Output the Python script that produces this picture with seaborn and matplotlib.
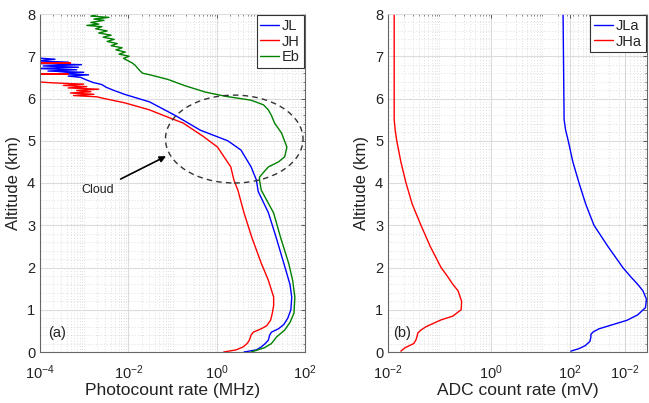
import numpy as np
import pandas as pd
import matplotlib
matplotlib.use('Agg')
import matplotlib.pyplot as plt
import seaborn as sns
from matplotlib.patches import Ellipse
from matplotlib.ticker import FixedLocator, LogLocator, NullFormatter, MultipleLocator

sns.set_style('white')
plt.rcParams['font.family'] = ['Liberation Sans', 'DejaVu Sans']
plt.rcParams['mathtext.fontset'] = 'custom'
plt.rcParams['mathtext.rm'] = 'Liberation Sans'
plt.rcParams['mathtext.it'] = 'Liberation Sans:italic'
plt.rcParams['mathtext.bf'] = 'Liberation Sans:bold'

# ---------------- data (altitude km, log10 of rate) ----------------
jl_alt = [0.00, 0.05, 0.12, 0.20, 0.28, 0.40, 0.47, 0.55, 0.65, 0.80, 1.00, 1.30, 1.60,
          2.10, 2.70, 3.30, 3.80, 4.07, 4.38, 4.78, 5.00, 5.25, 5.60, 5.92, 6.10, 6.20,
          6.27, 6.33, 6.38, 6.44, 6.50, 6.53, 6.56, 6.59, 6.62, 6.65, 6.68, 6.71, 6.74,
          6.77, 6.80, 6.83, 6.86, 6.89, 6.93, 6.96]
jl_log = [0.62, 0.90, 1.01, 1.10, 1.17, 1.20, 1.24, 1.40, 1.52, 1.61, 1.68, 1.70, 1.66,
          1.52, 1.35, 1.17, 0.94, 0.90, 0.78, 0.55, 0.25, -0.37, -0.94, -1.52, -2.09, -2.35,
          -2.51, -2.60, -2.80, -2.95, -3.08, -3.36, -2.90, -3.59, -3.01, -3.82, -3.17, -4.09, -3.13,
          -3.93, -3.06, -4.09, -3.36, -4.09, -3.66, -4.09]

jh_alt = [0.00, 0.05, 0.12, 0.20, 0.28, 0.40, 0.47, 0.55, 0.62, 0.75, 0.92, 1.10, 1.30,
          1.70, 2.10, 2.70, 3.29, 3.83, 4.07, 4.38, 4.85, 5.10, 5.42, 5.54, 5.73, 5.90,
          6.00, 6.04, 6.07, 6.10, 6.13, 6.16, 6.19, 6.22, 6.25, 6.28, 6.31, 6.34, 6.37,
          6.39, 6.40, 6.57, 6.58, 6.59, 6.83, 6.84, 6.85]
jh_log = [0.16, 0.44, 0.60, 0.69, 0.74, 0.78, 0.83, 1.01, 1.13, 1.22, 1.26, 1.29, 1.29,
          1.17, 1.01, 0.80, 0.62, 0.48, 0.39, 0.32, 0.02, -0.30, -0.76, -1.06, -1.52, -2.09,
          -2.55, -2.71, -3.24, -2.78, -3.31, -2.85, -3.17, -2.67, -3.36, -2.94, -3.47, -3.01, -3.70,
          -4.00, -4.09, -4.09, -3.36, -4.09, -4.09, -3.31, -4.09]

eb_alt = [0.00, 0.10, 0.20, 0.36, 0.52, 0.70, 0.92, 1.30, 1.70, 2.10, 2.70, 3.29, 3.83,
          4.07, 4.14, 4.25, 4.38, 4.50, 4.62, 4.85, 5.18, 5.42, 5.60, 5.73, 5.85, 5.96,
          6.05, 6.15, 6.30, 6.45, 6.55, 6.60, 6.67, 6.72, 6.78, 6.84, 6.90, 6.95, 7.00,
          7.05, 7.10, 7.15, 7.20, 7.25, 7.30, 7.35, 7.40, 7.45, 7.50, 7.55, 7.60, 7.65,
          7.70, 7.73, 7.76, 7.80, 7.85, 7.88, 7.92, 7.95, 8.00]
eb_log = [0.78, 1.08, 1.24, 1.36, 1.54, 1.66, 1.75, 1.77, 1.72, 1.63, 1.45, 1.29, 1.01,
          0.97, 0.97, 1.06, 1.17, 1.40, 1.54, 1.59, 1.47, 1.31, 1.24, 1.17, 1.06, 0.78,
          0.21, -0.25, -0.71, -1.10, -1.47, -1.68, -1.75, -1.79, -1.84, -1.91, -2.02, -2.11, -1.98,
          -2.21, -2.07, -2.28, -2.14, -2.39, -2.25, -2.48, -2.32, -2.57, -2.39, -2.67, -2.48, -2.74,
          -2.60, -2.94, -2.67, -2.85, -2.55, -2.78, -2.44, -2.85, -2.67]

jla_alt = [8.00, 5.50, 5.25, 5.00, 4.50, 4.00, 3.50, 3.00, 2.50, 2.00, 1.80, 1.60, 1.45,
           1.25, 1.05, 0.88, 0.75, 0.65, 0.55, 0.48, 0.42, 0.35, 0.25, 0.15, 0.08, 0.02]
jla_log = [1.40, 1.42, 1.45, 1.50, 1.59, 1.71, 1.84, 2.00, 2.27, 2.56, 2.70, 2.85, 2.95,
           3.02, 3.00, 2.85, 2.64, 2.37, 2.10, 1.99, 1.94, 1.94, 1.92, 1.83, 1.71, 1.55]
jha_alt = [8.00, 5.50, 5.25, 5.00, 4.50, 4.00, 3.50, 3.00, 2.50, 2.00, 1.80, 1.60, 1.45,
           1.20, 1.00, 0.85, 0.76, 0.60, 0.52, 0.45, 0.35, 0.28, 0.20, 0.10, 0.02]
jha_log = [-1.88, -1.88, -1.86, -1.83, -1.75, -1.65, -1.53, -1.36, -1.18, -0.97, -0.85, -0.74, -0.64,
           -0.57, -0.58, -0.74, -0.97, -1.26, -1.36, -1.42, -1.44, -1.46, -1.50, -1.67, -1.75]

left_ticks = [1e-4, 1e-2, 1e0, 1e2]
left_ticklabels = [r'$\mathregular{10^{-4}}$', r'$\mathregular{10^{-2}}$',
                   r'$\mathregular{10^{0}}$', r'$\mathregular{10^{2}}$']
right_tick_logpos = [-2.0, 0.0, 1.53, 2.60]
right_ticklabels = [r'$\mathregular{10^{-2}}$', r'$\mathregular{10^{0}}$',
                    r'$\mathregular{10^{2}}$', r'$\mathregular{10^{-2}}$']

BLUE, RED, GREEN = '#0000ff', '#ff0000', '#008000'

fig = plt.figure(figsize=(6.49, 4.03), dpi=100)
axL = fig.add_axes([40/649, 1-352/403, 265/649, 338/403])
axR = fig.add_axes([388/649, 1-352/403, 259/649, 338/403])

for ax in (axL, axR):
    ax.set_xscale('log')

def draw(ax, vals, alts, color, label):
    df = pd.DataFrame({'x': np.power(10.0, np.array(vals)), 'y': alts})
    sns.lineplot(data=df, x='x', y='y', sort=False, estimator=None, color=color,
                 lw=1.0, label=label, ax=ax)

draw(axL, jl_log, jl_alt, BLUE, 'JL')
draw(axL, jh_log, jh_alt, RED, 'JH')
draw(axL, eb_log, eb_alt, GREEN, 'Eb')
draw(axR, jla_log, jla_alt, BLUE, 'JLa')
draw(axR, jha_log, jha_alt, RED, 'JHa')

axL.set_xlim(1e-4, 1e2)
axR.set_xlim(1e-2, 10**3.03)

for ax in (axL, axR):
    ax.set_ylim(0, 8)
    ax.yaxis.set_major_locator(MultipleLocator(1))
    ax.yaxis.set_minor_locator(MultipleLocator(0.2))
    ax.xaxis.set_minor_locator(LogLocator(base=10, subs=np.arange(1, 10), numticks=50))
    ax.xaxis.set_minor_formatter(NullFormatter())
    ax.grid(which='major', color='#dcdcdc', lw=0.8, ls='-')
    ax.grid(which='minor', color='#c4c4c4', lw=0.5, ls=(0, (1, 3)))
    ax.set_axisbelow(True)
    ax.tick_params(which='both', direction='in', top=True, right=True,
                   colors='#555555', labelcolor='#222222', labelsize=10.5)
    ax.tick_params(which='major', length=3, width=0.7)
    ax.tick_params(which='minor', length=1.5, width=0.5)
    for side in ('left', 'bottom', 'right'):
        ax.spines[side].set_color('#666666')
        ax.spines[side].set_linewidth(0.8)
    ax.spines['top'].set_color('#dddddd')
    ax.spines['top'].set_linewidth(0.6)
    ax.set_ylabel('Altitude (km)', fontsize=12, color='#222222', labelpad=4)

axL.xaxis.set_major_locator(FixedLocator(left_ticks))
axL.set_xticklabels(left_ticklabels)
axR.xaxis.set_major_locator(FixedLocator([10**p for p in right_tick_logpos]))
axR.set_xticklabels(right_ticklabels)
for ax in (axL, axR):
    ax.tick_params(axis='x', pad=8)

axL.set_xlabel('Photocount rate (MHz)', fontsize=12.5, color='#222222', labelpad=1)
axR.set_xlabel('ADC count rate (mV)', fontsize=12.5, color='#222222', labelpad=1)

for ax in (axL, axR):
    leg = ax.legend(loc='upper right', bbox_to_anchor=(1.0, 1.0), borderaxespad=0.1,
                    frameon=True, fancybox=False, edgecolor='#333333', framealpha=1,
                    handlelength=1.3, handletextpad=0.2, borderpad=0.25,
                    labelspacing=0.1, fontsize=10.5)
    leg.get_frame().set_linewidth(0.8)

axL.text(0.03, 0.056, '(a)', transform=axL.transAxes, fontsize=10.5, va='center', color='#222222')
axR.text(0.02, 0.056, '(b)', transform=axR.transAxes, fontsize=10.5, va='center', color='#222222')

ell = Ellipse((0.733, 0.630), 0.519, 0.260, transform=axL.transAxes, fill=False,
              ls=(0, (4, 3)), lw=1.0, ec='#333333', zorder=5)
axL.add_patch(ell)
axL.text(0.216, 0.479, 'Cloud', transform=axL.transAxes, fontsize=9, ha='center',
         va='center', color='#222222')
axL.annotate('', xy=(0.485, 0.583), xytext=(0.295, 0.508), xycoords='axes fraction',
             arrowprops=dict(arrowstyle='-|>', color='black', lw=1.2, mutation_scale=9))

fig.savefig('out.png', dpi=100)
